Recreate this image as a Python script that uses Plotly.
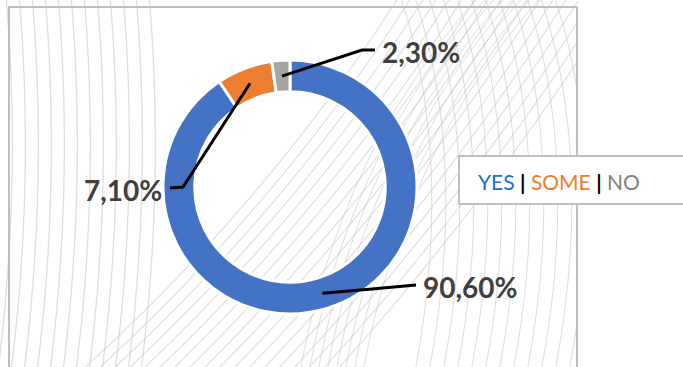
import math
import plotly.graph_objects as go

labels = ["YES", "SOME", "NO"]
values = [90.6, 7.1, 2.3]
colors = ["#4472C4", "#ED7D31", "#A5A5A5"]
legend_colors = ["#1F70C1", "#ED7D31", "#808080"]

W, H = 683, 367
CX, CY, R = 290, 187, 127  # donut centre / radius in pixels
HOLE = 0.75


def px(x):
    return x / W


def py(y):
    return 1 - y / H


fig = go.Figure(go.Pie(
    labels=labels, values=values, sort=False,
    direction="clockwise", rotation=0, hole=HOLE,
    marker=dict(colors=colors, line=dict(color="white", width=3)),
    textinfo="none", hoverinfo="label+percent", showlegend=False,
    domain=dict(x=[px(CX - R), px(CX + R)], y=[py(CY + R), py(CY - R)]),
))

shapes = []
grey = "rgba(195,195,195,0.55)"


def curve(p0, c, p1, width=1.1):
    shapes.append(dict(type="path", layer="below", line=dict(color=grey, width=width),
                       xref="paper", yref="paper",
                       path=f"M {px(p0[0])},{py(p0[1])} Q {px(c[0])},{py(c[1])} {px(p1[0])},{py(p1[1])}"))


# decorative background swirl lines
for i in range(12):
    x0 = 6 + 13 * i
    curve((x0, -5), (x0 + 16, 180), (x0 - 8, 372), 1.3)
for i in range(18):
    x0 = 80 + 15 * i
    x1 = 340 + 13 * i
    curve((x0, 372), (x1 - 70, 200), (x1 + 60, -5))
for i in range(12):
    x0 = 400 + 14 * i
    curve((x0, -5), (x0 + 55, 160), (x0 + 15, 372))
for i in range(8):
    x0 = 300 + 9 * i
    curve((x0, 372), (x0 + 40, 150), (x0 + 180, -5), 1.0)

# white area right of the frame
shapes.append(dict(type="rect", layer="below", xref="paper", yref="paper",
                   x0=px(578), x1=1, y0=0, y1=1, fillcolor="white", line=dict(width=0)))
# frame
shapes.append(dict(type="path", layer="below", xref="paper", yref="paper",
                   line=dict(color="#BFBFBF", width=2),
                   path=f"M {px(9)},{py(370)} L {px(9)},{py(7)} L {px(577)},{py(7)} L {px(577)},{py(370)}"))

# leader lines and data labels
label_layout = [
    dict(elbow=(372, 289), end=(416, 285), anchor="left"),
    dict(elbow=(183, 187), end=(170, 188), anchor="right"),
    dict(elbow=(362, 50), end=(375, 50), anchor="left"),
]
annotations = []
total = sum(values)
start = 0.0
r_mid = R * (1 + HOLE) / 2
for val, lay in zip(values, label_layout):
    mid = (start + val / 2) / total * 2 * math.pi
    start += val
    sx = CX + r_mid * math.sin(mid)
    sy = CY - r_mid * math.cos(mid)
    ex, ey = lay["elbow"]
    tx, ty = lay["end"]
    shapes.append(dict(type="path", layer="above", xref="paper", yref="paper",
                       line=dict(color="black", width=3),
                       path=f"M {px(sx)},{py(sy)} L {px(ex)},{py(ey)} L {px(tx)},{py(ty)}"))
    txt = f"{val:.2f}%".replace(".", ",")
    annotations.append(dict(text=f"<b>{txt}</b>", xref="paper", yref="paper",
                            x=px(tx + (5 if lay["anchor"] == "left" else -6)), y=py(ty + 2),
                            xanchor=lay["anchor"], yanchor="middle", showarrow=False,
                            font=dict(family="Lato", size=28, color="#404040")))

# legend box
shapes.append(dict(type="rect", layer="above", xref="paper", yref="paper",
                   x0=px(459), x1=px(690), y0=py(204), y1=py(156),
                   fillcolor="white", line=dict(color="#BFBFBF", width=2)))
sep = " <span style='color:black'><b>|</b></span> "
legend_text = sep.join(f"<span style='color:{c}'>{l}</span>" for l, c in zip(labels, legend_colors))
annotations.append(dict(text=legend_text, xref="paper", yref="paper", x=px(476), y=py(181),
                        xanchor="left", yanchor="middle", showarrow=False,
                        font=dict(family="Lato", size=21)))

fig.update_layout(width=W, height=H, margin=dict(l=0, r=0, t=0, b=0),
                  paper_bgcolor="white", plot_bgcolor="white",
                  shapes=shapes, annotations=annotations)
fig.write_html("out.html", config={"displayModeBar": False},
               post_script="document.body.style.margin='0';")
